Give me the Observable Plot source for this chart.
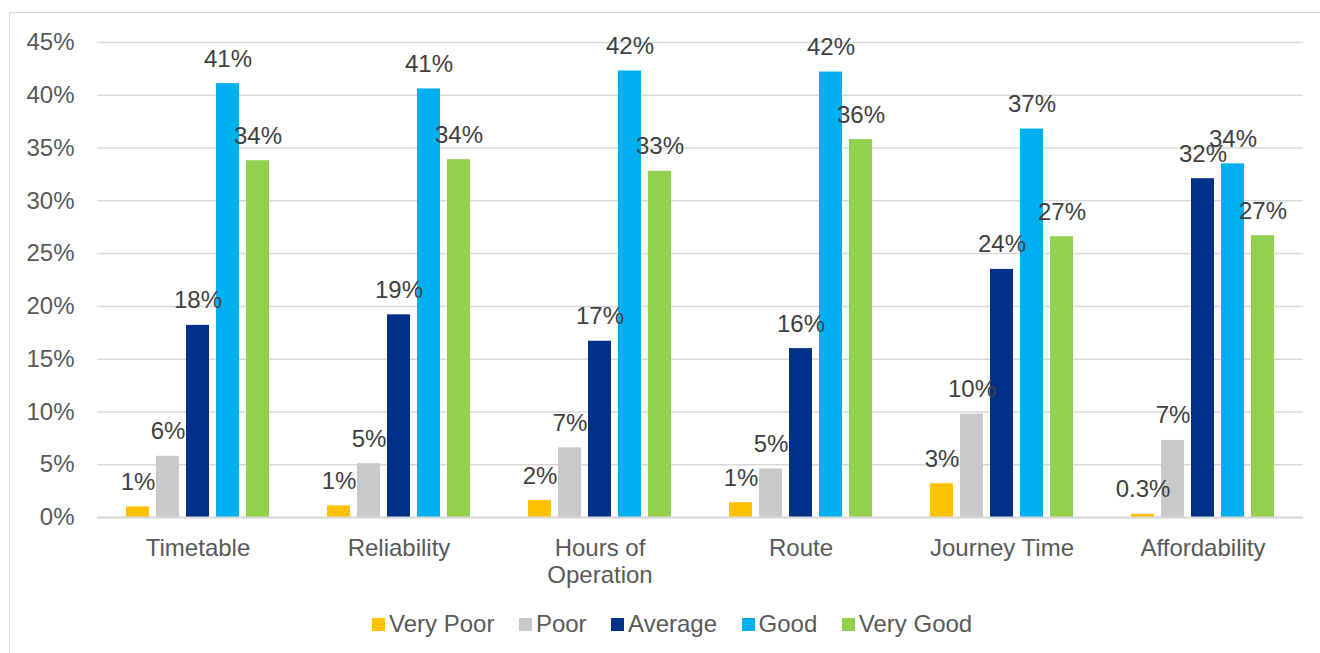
<!DOCTYPE html>
<html>
<head>
<meta charset="utf-8">
<script src="https://cdn.jsdelivr.net/npm/d3@7"></script>
<script src="https://cdn.jsdelivr.net/npm/@observablehq/plot@0.6"></script>
<style>
  html, body { margin: 0; padding: 0; background: #fff; overflow: hidden; }
  body { width: 1320px; height: 653px; position: relative; font-family: "Liberation Sans", Arial, sans-serif; }
  #frame { position: absolute; left: 9px; top: 12px; width: 1340px; height: 700px; border: 1.5px solid #D9D9D9; box-sizing: border-box; }
  #chart { position: absolute; left: 0; top: 0; }
  #legend { position: absolute; left: 372px; top: 609px; display: flex; align-items: center; font-size: 24px; color: #595959; line-height: 30px; white-space: nowrap; }
  .item { display: flex; align-items: center; margin-right: 24.5px; }
  .sw { width: 13px; height: 13px; margin-right: 4px; }
</style>
</head>
<body>
<div id="frame"></div>
<div id="chart"></div>
<div id="legend"></div>
<script>
const categories = ["Timetable", "Reliability", "Hours of Operation", "Route", "Journey Time", "Affordability"];
const ratings = ["Very Poor", "Poor", "Average", "Good", "Very Good"];
const veryPoor = [1.0, 1.1, 1.6, 1.4, 3.2, 0.3];
const poor     = [5.8, 5.1, 6.6, 4.6, 9.8, 7.3];
const average  = [18.2, 19.2, 16.7, 16.0, 23.5, 32.1];
const good     = [41.1, 40.6, 42.3, 42.2, 36.8, 33.5];
const veryGood = [33.8, 33.9, 32.8, 35.8, 26.6, 26.7];
const colors = ["#FFC000", "#C9C9C9", "#003087", "#00B0F0", "#92D050"];
const yTicks = [0, 5, 10, 15, 20, 25, 30, 35, 40, 45];

const series = [veryPoor, poor, average, good, veryGood];
const data = [];
categories.forEach((c, i) => {
  ratings.forEach((r, j) => {
    data.push({category: c, rating: r, value: series[j][i]});
  });
});
const fmt = v => v < 1 ? v.toFixed(1) + "%" : Math.round(v) + "%";

const chart = Plot.plot({
  width: 1320,
  height: 600,
  marginLeft: 96,
  marginRight: 17,
  marginTop: 42,
  marginBottom: 83,
  style: {fontFamily: "'Liberation Sans', Arial, sans-serif", fontSize: "24px", color: "#595959", background: "transparent"},
  fx: {domain: categories, padding: 0, label: null},
  x: {domain: ratings, paddingInner: 0.226, paddingOuter: 0.86, axis: null},
  y: {domain: [0, 45], label: null},
  color: {domain: ratings, range: colors},
  marks: [
    Plot.gridY(yTicks, {stroke: "#D9D9D9", strokeOpacity: 1, strokeWidth: 1.5}),
    Plot.axisY(yTicks, {tickFormat: d => d + "%", tickSize: 0, tickPadding: 23, fontSize: 24, fill: "#595959", label: null}),
    Plot.axisFx({anchor: "bottom", tickSize: 0, tickPadding: 19, fontSize: 24, fill: "#595959", label: null, lineHeight: 1.13,
      tickFormat: d => d === "Hours of Operation" ? "Hours of\nOperation" : d}),
    Plot.barY(data, {fx: "category", x: "rating", y: "value", fill: "rating"}),
    Plot.ruleY([0], {stroke: "#D9D9D9", strokeWidth: 2}),
    Plot.text(data, {fx: "category", x: "rating", y: "value", text: d => fmt(d.value), lineAnchor: "bottom", dy: -17, fill: "#404040", fontSize: 24})
  ]
});
document.getElementById("chart").appendChild(chart);

const legend = document.getElementById("legend");
ratings.forEach((r, i) => {
  const item = document.createElement("div");
  item.className = "item";
  const sw = document.createElement("div");
  sw.className = "sw";
  sw.style.background = colors[i];
  const label = document.createElement("span");
  label.textContent = r;
  item.appendChild(sw);
  item.appendChild(label);
  legend.appendChild(item);
});
</script>
</body>
</html>
